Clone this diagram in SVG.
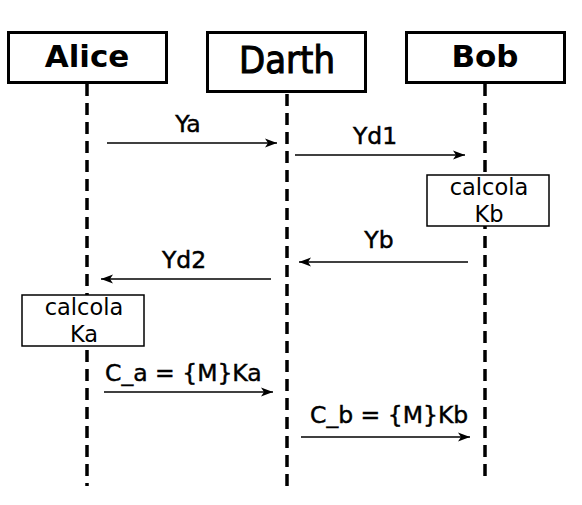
<svg xmlns="http://www.w3.org/2000/svg" width="582" height="505" viewBox="0 0 582 505">
<style>
.box{fill:#fff;stroke:#000;stroke-width:3}
.note{fill:#fff;stroke:#000;stroke-width:1.5}
.life{stroke:#000;stroke-width:3.5;stroke-dasharray:12,7;fill:none}
.msg{stroke:#000;stroke-width:1.6;fill:none;marker-end:url(#ah)}
.title{font-family:"DejaVu Sans",sans-serif;font-size:31px;font-weight:bold;text-anchor:middle;fill:#000}
.darth{font-family:"DejaVu Sans",sans-serif;font-size:37px;text-anchor:middle;fill:#000;stroke:#000;stroke-width:1.1}
.lbl{font-family:"DejaVu Sans",sans-serif;font-size:23.5px;fill:#000;stroke:#000;stroke-width:0.45}
.ntxt{font-family:"DejaVu Sans",sans-serif;font-size:22.5px;text-anchor:middle;fill:#000}
</style>
<defs>
<marker id="ah" markerUnits="userSpaceOnUse" markerWidth="14" markerHeight="10" refX="12" refY="5" orient="auto" overflow="visible">
<path d="M12,5 L0,0.5 L3,5 L0,9.5 Z" fill="#000"/>
</marker>
</defs>
<rect width="582" height="505" fill="#fff"/>
<g id="lifelines">
<line class="life" x1="87" y1="84" x2="87" y2="486"/>
<line class="life" x1="287" y1="94" x2="287" y2="486"/>
<line class="life" x1="485" y1="84" x2="485" y2="482"/>
</g>
<g id="alice"><rect class="box" x="8.5" y="32.5" width="158" height="50"/><text class="title" x="87" y="67">Alice</text></g>
<g id="darth"><rect class="box" x="207.5" y="32.5" width="158" height="59"/><text class="darth" transform="translate(287 73) scale(0.92 1)" x="0" y="0">Darth</text></g>
<g id="bob"><rect class="box" x="406.5" y="32.5" width="158" height="50"/><text class="title" x="485" y="67">Bob</text></g>
<g id="calcolaKb"><rect class="note" x="427" y="175" width="122" height="51"/><text class="ntxt" x="489" y="195">calcola</text><text class="ntxt" x="489" y="222">Kb</text></g>
<g id="calcolaKa"><rect class="note" x="22" y="295" width="122" height="51"/><text class="ntxt" x="84" y="315">calcola</text><text class="ntxt" x="84" y="342">Ka</text></g>
<g id="connectors">
<line class="msg" x1="107" y1="143" x2="277" y2="143"/>
<line class="msg" x1="295" y1="155" x2="465" y2="155"/>
<line class="msg" x1="468" y1="262" x2="299" y2="262"/>
<line class="msg" x1="271" y1="279" x2="101" y2="279"/>
<line class="msg" x1="104" y1="392" x2="273" y2="392"/>
<line class="msg" x1="301" y1="437" x2="470" y2="437"/>
<text class="lbl" x="188" y="132" text-anchor="middle">Ya</text>
<text class="lbl" x="375" y="144" text-anchor="middle">Yd1</text>
<text class="lbl" x="379" y="248" text-anchor="middle">Yb</text>
<text class="lbl" x="184" y="268" text-anchor="middle">Yd2</text>
<text class="lbl" x="105" y="381">C_a = {M}Ka</text>
<text class="lbl" x="310" y="423">C_b = {M}Kb</text>
</g>
</svg>
